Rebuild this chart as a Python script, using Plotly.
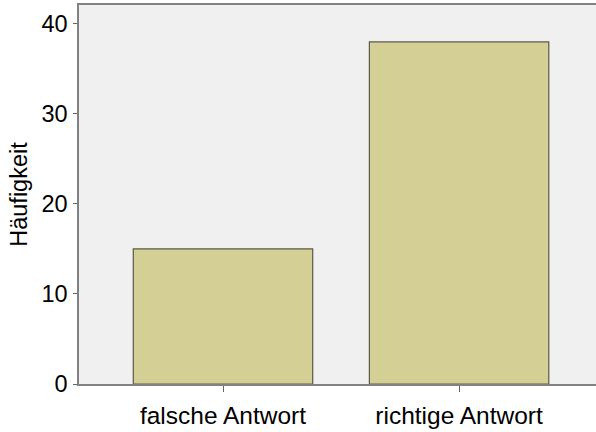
import plotly.graph_objects as go

categories = ["falsche Antwort", "richtige Antwort"]
counts = [15, 38]
y_ticks = [0, 10, 20, 30, 40]

fig = go.Figure(go.Bar(
    x=categories, y=counts,
    marker=dict(color="rgb(212,207,149)", line=dict(color="rgb(90,90,74)", width=1.2)),
    width=0.76,
))

fig.update_layout(
    width=596, height=432,
    margin=dict(l=79, r=0, t=5, b=48),
    paper_bgcolor="white", plot_bgcolor="rgb(240,240,240)",
    font=dict(family="Liberation Sans, Arial, sans-serif", color="black"),
    showlegend=False,
)
fig.update_xaxes(
    type="category", range=[-0.61, 1.58],
    showline=True, linecolor="rgb(130,130,130)", linewidth=1.5, mirror=True,
    ticks="outside", ticklen=6, tickcolor="rgb(100,100,100)",
    tickfont=dict(size=24.5), ticklabelstandoff=3, showgrid=False,
)
fig.update_yaxes(
    range=[0, 42.1], tickvals=y_ticks,
    showline=True, linecolor="rgb(130,130,130)", linewidth=1.5,
    ticks="outside", ticklen=4, tickcolor="rgb(100,100,100)",
    tickfont=dict(size=23.5), ticklabelstandoff=1, showgrid=False, zeroline=False,
    title=dict(text="Häufigkeit", font=dict(size=23.5), standoff=7),
)
fig.write_html("out.html", config={"displayModeBar": False},
               post_script="document.body.style.margin='0';")
